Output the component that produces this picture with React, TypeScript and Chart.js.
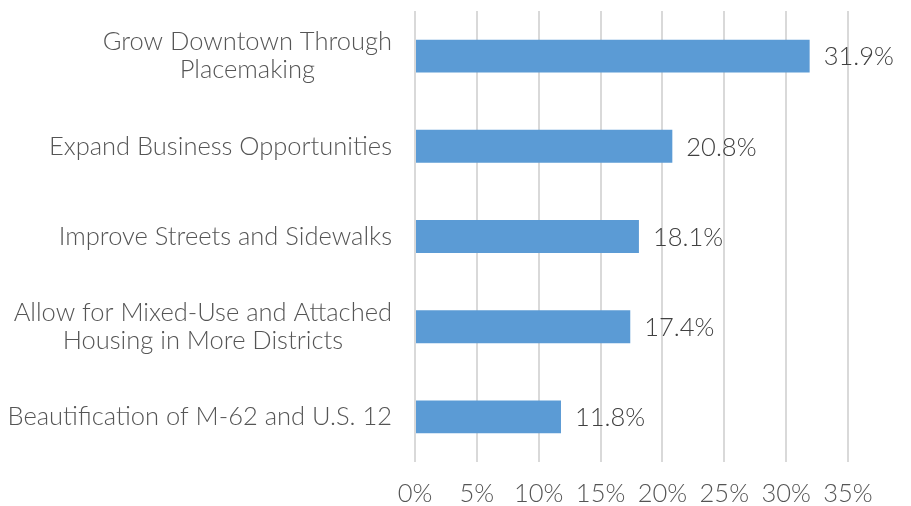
import React, { useEffect, useRef } from "react";
import { Chart, registerables } from "chart.js";

Chart.register(...registerables);

const categories: (string | string[])[] = [
  ["Grow Downtown Through", "Placemaking"],
  "Expand Business Opportunities",
  "Improve Streets and Sidewalks",
  ["Allow for Mixed-Use and Attached", "Housing in More Districts"],
  "Beautification of M-62 and U.S. 12",
];
const values = [31.9, 20.8, 18.1, 17.4, 11.8];
const xMin = 0;
const xMax = 35;
const xStep = 5;

const FONT = "Lato, 'Open Sans', sans-serif";
const FS = 25.5;
const WEIGHT = "300";
const TEXT_COLOR = "#555555";

const valueLabels = {
  id: "valueLabels",
  afterDatasetsDraw(chart: any) {
    const ctx = chart.ctx;
    const meta = chart.getDatasetMeta(0);
    ctx.save();
    ctx.font = `${WEIGHT} ${FS}px ${FONT}`;
    ctx.fillStyle = "#404040";
    ctx.textAlign = "left";
    ctx.textBaseline = "middle";
    meta.data.forEach((bar: any, i: number) => {
      ctx.fillText(values[i].toFixed(1) + "%", bar.x + 14, bar.y + 1);
    });
    ctx.restore();
  },
};

const categoryLabels = {
  id: "categoryLabels",
  afterDraw(chart: any) {
    const ctx = chart.ctx;
    const yScale = chart.scales.y;
    const rightEdge = yScale.right - 23;
    const lineH = 28;
    ctx.save();
    ctx.font = `${WEIGHT} ${FS}px ${FONT}`;
    ctx.fillStyle = TEXT_COLOR;
    ctx.textAlign = "center";
    ctx.textBaseline = "middle";
    categories.forEach((lab, i) => {
      const lines = Array.isArray(lab) ? lab : [lab];
      const w = Math.max(...lines.map((l) => ctx.measureText(l).width));
      const cx = rightEdge - w / 2;
      const cy = yScale.getPixelForTick(i);
      lines.forEach((l, j) => {
        ctx.fillText(l, cx, cy + (j - (lines.length - 1) / 2) * lineH);
      });
    });
    ctx.restore();
  },
};

export default function App() {
  const ref = useRef<HTMLCanvasElement | null>(null);
  useEffect(() => {
    if (!ref.current) return;
    const chart = new Chart(ref.current, {
      type: "bar",
      data: {
        labels: categories,
        datasets: [
          {
            data: values,
            backgroundColor: "#5B9BD5",
            borderWidth: 0,
            barPercentage: 0.73,
            categoryPercentage: 0.5,
          },
        ],
      },
      plugins: [valueLabels, categoryLabels],
      options: {
        indexAxis: "y",
        animation: false,
        responsive: false,
        maintainAspectRatio: false,
        layout: { padding: { top: 11, right: 63, bottom: 0, left: 0 } },
        plugins: { legend: { display: false }, tooltip: { enabled: false } },
        scales: {
          x: {
            min: xMin,
            max: xMax,
            afterFit: (axis: any) => {
              axis.height = 44;
            },
            ticks: {
              stepSize: xStep,
              callback: (v: any) => v + "%",
              font: { family: FONT, size: FS, weight: WEIGHT as any },
              color: TEXT_COLOR,
              padding: 16,
            },
            grid: { color: "#d9d9d9", lineWidth: 2, drawTicks: false },
            border: { display: false },
          },
          y: {
            afterFit: (axis: any) => {
              axis.width = 415;
              axis.paddingTop = 0;
              axis.paddingBottom = 0;
            },
            ticks: {
              display: false,
            },
            grid: { display: false, drawTicks: false },
            border: { display: false },
          },
        },
      },
    });
    return () => chart.destroy();
  }, []);
  return (
    <div style={{ position: "fixed", left: 0, top: 0, width: 911, height: 506, background: "#fff" }}>
      <canvas ref={ref} width={911} height={506} />
    </div>
  );
}
